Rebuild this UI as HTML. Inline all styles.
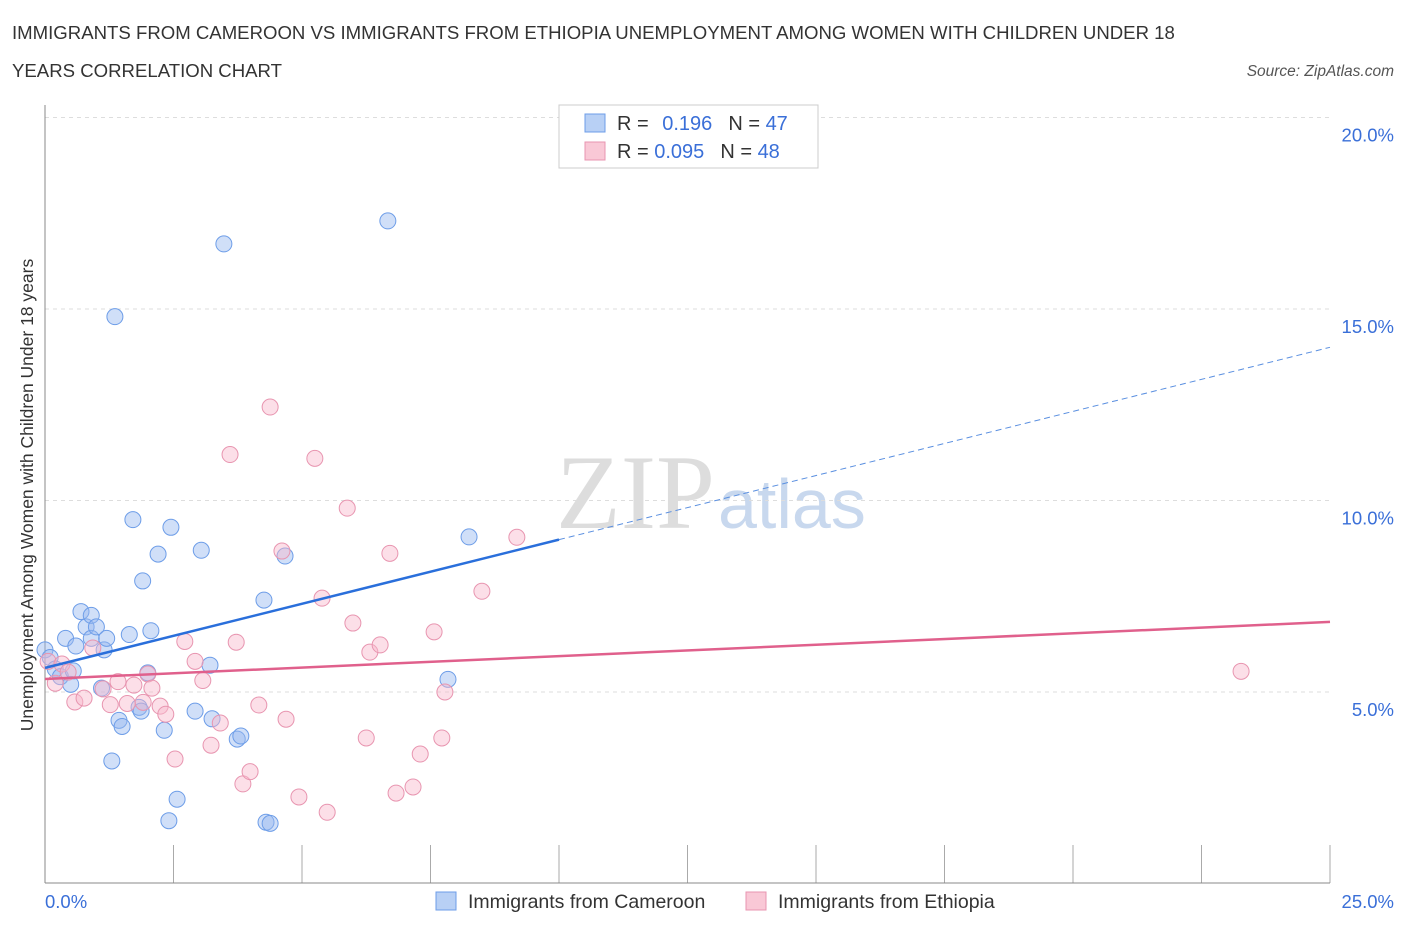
<!DOCTYPE html>
<html><head><meta charset="utf-8"><style>
body{margin:0;background:#fff;font-family:"Liberation Sans",sans-serif;}
</style></head><body>
<svg width="1406" height="930" xmlns="http://www.w3.org/2000/svg">
<text x="12" y="39" font-size="18.6" fill="#333">IMMIGRANTS FROM CAMEROON VS IMMIGRANTS FROM ETHIOPIA UNEMPLOYMENT AMONG WOMEN WITH CHILDREN UNDER 18</text>
<text x="12" y="77" font-size="18.6" fill="#333">YEARS CORRELATION CHART</text>
<text x="1394" y="76" font-size="15.5" fill="#555" font-style="italic" text-anchor="end">Source: ZipAtlas.com</text>
<text x="715" y="528" font-size="106" fill="#ddd" font-family="Liberation Serif" text-anchor="end">ZIP</text>
<text x="718" y="528" font-size="70" fill="#c8d8ee">atlas</text>
<g id="grid"></g>
<line x1="45" y1="105" x2="45" y2="883" stroke="#888"/>
<line x1="45" y1="883" x2="1330" y2="883" stroke="#888"/>
<text transform="translate(33,495) rotate(-90)" font-size="17.5" fill="#333" text-anchor="middle">Unemployment Among Women with Children Under 18 years</text>
<text x="45" y="908" font-size="18.5" fill="#3a6fd8">0.0%</text>
<text x="1394" y="908" font-size="18.5" fill="#3a6fd8" text-anchor="end">25.0%</text>
<g id="pts"></g>
<g id="lines"></g>
<g>
<rect x="559" y="105" width="259" height="63" fill="#fff" stroke="#ccc"/>
<rect x="585" y="114" width="20" height="18" fill="#b8d0f5" stroke="#6d9de8"/>
<rect x="585" y="142" width="20" height="18" fill="#f9c8d6" stroke="#e895b0"/>
<text x="617" y="130" font-size="20" fill="#333">R = <tspan fill="#3a6fd8" dx="8">0.196</tspan><tspan dx="16" fill="#333">N = </tspan><tspan fill="#3a6fd8">47</tspan></text>
<text x="617" y="158" font-size="20" fill="#333">R = <tspan fill="#3a6fd8">0.095</tspan><tspan dx="16" fill="#333">N = </tspan><tspan fill="#3a6fd8">48</tspan></text>
</g>
<g><rect x="436" y="892" width="20" height="18" fill="#b8d0f5" stroke="#6d9de8"/><text x="468" y="908" font-size="19.5" fill="#333">Immigrants from Cameroon</text></g>
<g><rect x="746" y="892" width="20" height="18" fill="#f9c8d6" stroke="#e895b0"/><text x="778" y="908" font-size="19.5" fill="#333">Immigrants from Ethiopia</text></g>
</svg>
<script>
const yTicks=[5,10,15,20];
const xTicks=[0,2.5,5,7.5,10,12.5,15,17.5,20,22.5,25];
const camX=[0,0.1,0.2,0.3,0.4,0.5,0.55,0.6,0.7,0.8,0.9,0.9,1,1.1,1.15,1.2,1.3,1.36,1.44,1.5,1.64,1.71,1.83,1.87,1.9,2,2.06,2.2,2.32,2.41,2.45,2.57,2.92,3.04,3.21,3.25,3.48,3.74,3.81,4.26,4.3,4.38,4.67,6.67,7.84,8.25];
const camY=[6.1,5.9,5.6,5.4,6.4,5.2,5.55,6.2,7.1,6.7,6.4,7.0,6.7,5.1,6.1,6.4,3.2,14.8,4.26,4.1,6.5,9.5,4.6,4.5,7.9,5.5,6.6,8.6,4.0,1.64,9.3,2.2,4.5,8.7,5.7,4.3,16.7,3.77,3.85,7.4,1.6,1.57,8.55,17.3,5.33,9.05];
const ethX=[0.06,0.2,0.33,0.45,0.58,0.76,0.93,1.13,1.27,1.42,1.6,1.73,1.91,2.0,2.08,2.24,2.35,2.53,2.72,2.92,3.07,3.23,3.41,3.6,3.72,3.85,3.99,4.16,4.38,4.69,4.61,4.94,5.25,5.39,5.49,5.88,5.99,6.25,6.32,6.52,6.71,6.83,7.16,7.3,7.57,7.72,7.78,8.5,9.18,23.27];
const ethY=[5.8,5.23,5.73,5.52,4.74,4.84,6.15,5.08,4.67,5.27,4.7,5.18,4.73,5.47,5.1,4.63,4.42,3.25,6.32,5.8,5.3,3.61,4.19,11.2,6.3,2.6,2.92,4.66,12.44,4.29,8.68,2.26,11.1,7.45,1.86,9.8,6.8,3.8,6.04,6.23,8.62,2.36,2.52,3.38,6.57,3.8,5.0,7.63,9.04,5.54];
const camLine=[5.63,14.0], ethLine=[5.34,6.83];
const X=v=>45+v*51.4, Y=v=>883.5-v*38.3;
const NS="http://www.w3.org/2000/svg";
function mk(p,t,a){const e=document.createElementNS(NS,t);for(const k in a)e.setAttribute(k,a[k]);p.appendChild(e);return e;}
const g=document.getElementById('grid');
yTicks.forEach(t=>{const l=mk(g,'line',{x1:45,x2:1330,y1:Y(t),y2:Y(t),stroke:'#ddd','stroke-dasharray':'4,4'});


const tx=mk(g,'text',{x:1394,y:Y(t)+24,'font-size':18.5,fill:'#3a6fd8','text-anchor':'end'});tx.textContent=t.toFixed(1)+'%';

});
xTicks.forEach(t=>{const l=mk(g,'line',{x1:X(t),x2:X(t),y1:845,y2:883,stroke:'#aaa'});

});
const p=document.getElementById('pts');
camX.forEach((x,i)=>{const c=mk(p,'circle',{cx:X(x),cy:Y(camY[i]),r:8,fill:'rgba(150,185,240,0.45)',stroke:'#6d9de8','stroke-width':1});

});
ethX.forEach((x,i)=>{const c=mk(p,'circle',{cx:X(x),cy:Y(ethY[i]),r:8,fill:'rgba(248,185,205,0.45)',stroke:'#e895b0','stroke-width':1});

});
const L=document.getElementById('lines');
const cy=x=>camLine[0]+(camLine[1]-camLine[0])*x/25;
const l1=mk(L,'line',{x1:X(0),y1:Y(cy(0)),x2:X(10),y2:Y(cy(10)),stroke:'#2a6fdb','stroke-width':2.5});


const l2=mk(L,'line',{x1:X(10),y1:Y(cy(10)),x2:X(25),y2:Y(cy(25)),stroke:'#5a8fe0','stroke-width':1,'stroke-dasharray':'6,4'});


const l3=mk(L,'line',{x1:X(0),y1:Y(ethLine[0]),x2:X(25),y2:Y(ethLine[1]),stroke:'#e0608c','stroke-width':2.5});


</script>
</body></html>
